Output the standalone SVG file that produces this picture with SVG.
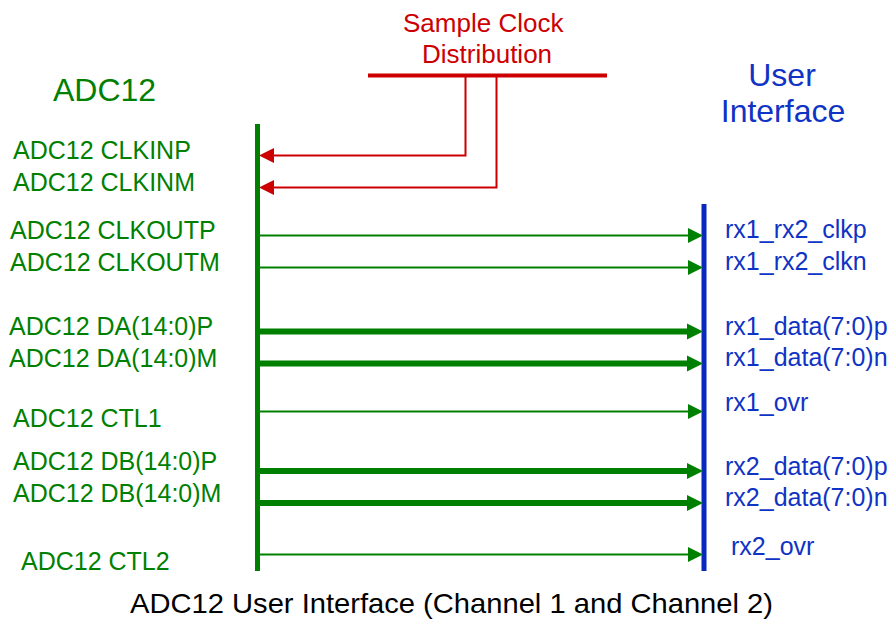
<svg xmlns="http://www.w3.org/2000/svg" width="895" height="620" viewBox="0 0 895 620">
  <style>
    text { font-family: "Liberation Sans", Arial, sans-serif; }
    .adc { fill: #008000; font-size: 25px; }
    .ui { fill: #0f33c4; font-size: 25px; }
    .hdr { font-size: 32px; }
    .clk { fill: #cc0000; font-size: 26px; }
    .cap { fill: #000; font-size: 28px; }
    .thin { stroke: #008000; stroke-width: 2; fill: none; }
    .thick { stroke: #008000; stroke-width: 6; fill: none; }
    .red { stroke: #cc0000; stroke-width: 2; fill: none; }
    .head-g { fill: #008000; }
    .head-r { fill: #cc0000; }
  </style>

  <!-- ADC12 side -->
  <g id="adc12">
    <rect x="255" y="124" width="5" height="447" fill="#008000"/>
    <text class="adc hdr" x="53" y="101">ADC12</text>
    <text class="adc" x="13" y="159">ADC12 CLKINP</text>
    <text class="adc" x="13" y="191">ADC12 CLKINM</text>
    <text class="adc" x="10" y="239">ADC12 CLKOUTP</text>
    <text class="adc" x="10" y="271">ADC12 CLKOUTM</text>
    <text class="adc" x="9" y="335">ADC12 DA(14:0)P</text>
    <text class="adc" x="9" y="367">ADC12 DA(14:0)M</text>
    <text class="adc" x="13" y="427">ADC12 CTL1</text>
    <text class="adc" x="13" y="470">ADC12 DB(14:0)P</text>
    <text class="adc" x="13" y="502">ADC12 DB(14:0)M</text>
    <text class="adc" x="21" y="570">ADC12 CTL2</text>
  </g>

  <!-- User interface side -->
  <g id="user-interface">
    <rect x="701.5" y="204" width="5" height="367" fill="#0a28c0"/>
    <text class="ui hdr" x="782" y="86" text-anchor="middle">User</text>
    <text class="ui hdr" x="783" y="122" text-anchor="middle">Interface</text>
    <text class="ui" x="725" y="238">rx1_rx2_clkp</text>
    <text class="ui" x="725" y="270">rx1_rx2_clkn</text>
    <text class="ui" x="725" y="335">rx1_data(7:0)p</text>
    <text class="ui" x="725" y="366">rx1_data(7:0)n</text>
    <text class="ui" x="725" y="411">rx1_ovr</text>
    <text class="ui" x="725" y="475">rx2_data(7:0)p</text>
    <text class="ui" x="725" y="506">rx2_data(7:0)n</text>
    <text class="ui" x="731" y="555">rx2_ovr</text>
  </g>

  <!-- Sample clock source -->
  <g id="sample-clock">
    <line x1="368" y1="75.5" x2="607" y2="75.5" stroke="#cc0000" stroke-width="4"/>
    <text class="clk" x="403" y="32">Sample Clock</text>
    <text class="clk" x="422" y="63">Distribution</text>
  </g>

  <!-- Connectors -->
  <g id="connectors">
    <!-- clock inputs -->
    <polyline class="red" points="465.5,76 465.5,155.5 272,155.5"/>
    <polygon class="head-r" points="259,155.5 274,148 274,163"/>
    <polyline class="red" points="496.5,76 496.5,187.5 272,187.5"/>
    <polygon class="head-r" points="259,187.5 274,180 274,195"/>

    <!-- clock outputs -->
    <line class="thin" x1="260" y1="235.5" x2="690" y2="235.5"/>
    <polygon class="head-g" points="703,235.5 688,228 688,243"/>
    <line class="thin" x1="260" y1="267.5" x2="690" y2="267.5"/>
    <polygon class="head-g" points="703,267.5 688,260 688,275"/>

    <!-- channel A data -->
    <line class="thick" x1="260" y1="331.5" x2="690" y2="331.5"/>
    <polygon class="head-g" points="703,331.5 687,323.5 687,339.5"/>
    <line class="thick" x1="260" y1="363.5" x2="690" y2="363.5"/>
    <polygon class="head-g" points="703,363.5 687,355.5 687,371.5"/>

    <!-- CTL1 -->
    <line class="thin" x1="260" y1="411.5" x2="690" y2="411.5"/>
    <polygon class="head-g" points="703,411.5 688,404 688,419"/>

    <!-- channel B data -->
    <line class="thick" x1="260" y1="471" x2="690" y2="471"/>
    <polygon class="head-g" points="703,471 687,463 687,479"/>
    <line class="thick" x1="260" y1="503" x2="690" y2="503"/>
    <polygon class="head-g" points="703,503 687,495 687,511"/>

    <!-- CTL2 -->
    <line class="thin" x1="260" y1="554.5" x2="690" y2="554.5"/>
    <polygon class="head-g" points="703,554.5 688,547 688,562"/>
  </g>

  <text class="cap" x="130" y="613" textLength="643" lengthAdjust="spacingAndGlyphs">ADC12 User Interface (Channel 1 and Channel 2)</text>
</svg>
